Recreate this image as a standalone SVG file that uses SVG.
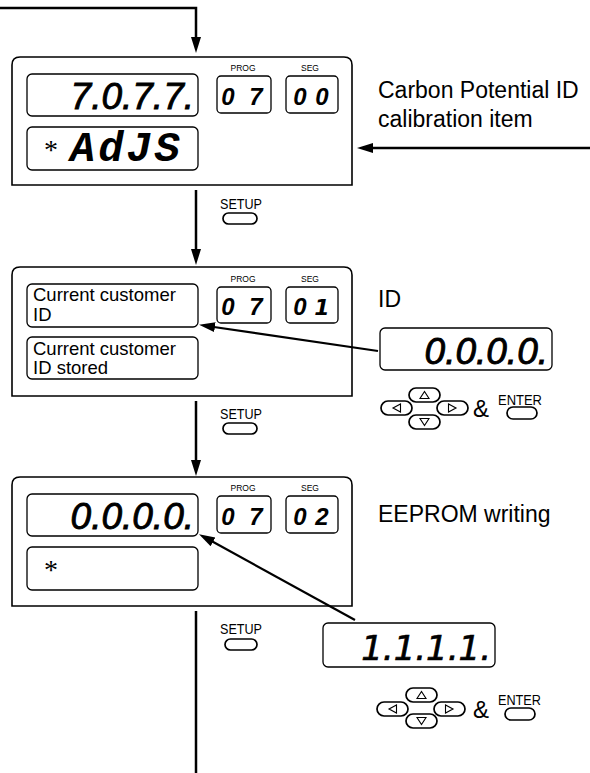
<svg xmlns="http://www.w3.org/2000/svg" width="590" height="773" viewBox="0 0 590 773">
<defs>
<marker id="ah" markerUnits="userSpaceOnUse" markerWidth="18" markerHeight="12" refX="8" refY="5" orient="auto"><path d="M0,0 L16,5 L0,10 Z" fill="#000"/></marker>
<g id="bUp"><rect x="0" y="0" width="31" height="14" rx="7" class="key-b"/><path d="M11,10.5 L20,10.5 L15.5,3.5 Z" class="tri"/></g>
<g id="bDown"><rect x="0" y="0" width="31" height="14" rx="7" class="key-b"/><path d="M11,3.5 L20,3.5 L15.5,10.5 Z" class="tri"/></g>
<g id="bLeft"><rect x="0" y="0" width="31" height="14" rx="7" class="key-b"/><path d="M19.5,3 L19.5,11 L12,7 Z" class="tri"/></g>
<g id="bRight"><rect x="0" y="0" width="31" height="14" rx="7" class="key-b"/><path d="M11.5,3 L11.5,11 L19,7 Z" class="tri"/></g>
</defs>
<style>
.panel{fill:#fff;stroke:#000;stroke-width:1.6}
.disp{fill:#fff;stroke:#000;stroke-width:1.3}
.key-b{fill:#fff;stroke:#000;stroke-width:1.7}
.tri{fill:none;stroke:#000;stroke-width:1.1}
.conn{fill:none;stroke:#000;stroke-width:2.5}
.diag{fill:none;stroke:#000;stroke-width:2.2}
.seg{font-family:"Liberation Sans",Arial,sans-serif;font-style:italic;font-size:37px;text-anchor:end;fill:#000;stroke:#000;stroke-width:0.9}
.one{font-family:"DejaVu Sans",sans-serif;font-style:italic;font-size:34px;text-anchor:end;fill:#000;stroke:#000;stroke-width:0.7}
.mono{font-family:"Liberation Mono","Courier New",monospace;font-style:italic;font-weight:bold;font-size:42px;letter-spacing:3px;fill:#000}
.pd{font-family:"Liberation Sans",Arial,sans-serif;font-style:italic;font-weight:bold;font-size:24px;text-anchor:middle;fill:#000}
.pd1{font-family:"DejaVu Sans",sans-serif;font-style:italic;font-weight:bold;font-size:22px;text-anchor:middle;fill:#000}
.lbl{font-family:"Liberation Sans",Arial,sans-serif;font-size:8.5px;text-anchor:middle;fill:#000}
.txt{font-family:"Liberation Sans",Arial,sans-serif;font-size:18.5px;fill:#000}
.big{font-family:"Liberation Sans",Arial,sans-serif;font-size:23px;fill:#000}
.key{font-family:"Liberation Sans",Arial,sans-serif;font-size:15px;fill:#000}
.amp{font-family:"Liberation Sans",Arial,sans-serif;font-size:24px;fill:#000}
.ast{font-family:"Liberation Serif","Times New Roman",serif;font-size:28px;fill:#000}
</style>

<g id="panel1">
<path class="panel" d="M12,185 V65 Q12,57 20,57 H344 Q352,57 352,65 V185 Z"/>
<rect class="disp" x="27" y="74" width="171" height="42" rx="5"/>
<text class="seg" x="194" y="109">7.0.7.7.</text>
<rect class="disp" x="27" y="127" width="171" height="43" rx="5"/>
<text class="ast" x="44" y="159">*</text>
<text class="mono" x="70" y="161">AdJS</text>
<text class="lbl" x="243" y="71">PROG</text>
<text class="lbl" x="310" y="71">SEG</text>
<rect class="disp" x="217" y="76" width="54" height="37" rx="4"/>
<rect class="disp" x="286" y="76" width="52" height="37" rx="4"/>
<text class="pd" y="105"><tspan x="228">0</tspan><tspan x="256">7</tspan></text>
<text class="pd" y="105"><tspan x="300">0</tspan><tspan x="322">0</tspan></text>
</g>

<g id="label-carbon">
<text class="big" x="378" y="98">Carbon Potential ID</text>
<text class="big" x="378" y="127">calibration item</text>
</g>

<g id="setup1">
<text class="key" x="220" y="209" textLength="42" lengthAdjust="spacingAndGlyphs">SETUP</text>
<rect class="key-b" x="223" y="213" width="34" height="11" rx="5.5"/>
</g>

<g id="panel2">
<path class="panel" d="M12,396 V275 Q12,267 20,267 H344 Q352,267 352,275 V396 Z"/>
<rect class="disp" x="27" y="284" width="171" height="43" rx="5"/>
<text class="txt" x="33" y="301">Current customer</text>
<text class="txt" x="33" y="321">ID</text>
<rect class="disp" x="27" y="337" width="171" height="42" rx="5"/>
<text class="txt" x="33" y="355">Current customer</text>
<text class="txt" x="33" y="374">ID stored</text>
<text class="lbl" x="243" y="282">PROG</text>
<text class="lbl" x="310" y="282">SEG</text>
<rect class="disp" x="217" y="287" width="54" height="36" rx="4"/>
<rect class="disp" x="286" y="287" width="52" height="36" rx="4"/>
<text class="pd" y="315"><tspan x="228">0</tspan><tspan x="256">7</tspan></text>
<text class="pd" y="315"><tspan x="300">0</tspan></text>
<text class="pd1" x="322" y="315">1</text>
</g>

<g id="label-id">
<text class="big" x="378" y="307">ID</text>
</g>

<g id="input-id">
<rect class="disp" x="380" y="328" width="172" height="42" rx="5"/>
<text class="seg" x="548" y="364">0.0.0.0.</text>
</g>

<g id="keys1">
<use href="#bLeft" x="381" y="401"/>
<use href="#bRight" x="437" y="401"/>
<use href="#bUp" x="409" y="388"/>
<use href="#bDown" x="409" y="415"/>
<text class="amp" x="473" y="417">&amp;</text>
<text class="key" x="498" y="405" textLength="44" lengthAdjust="spacingAndGlyphs">ENTER</text>
<rect class="key-b" x="507" y="407" width="30" height="12" rx="6"/>
</g>

<g id="setup2">
<text class="key" x="220" y="419" textLength="42" lengthAdjust="spacingAndGlyphs">SETUP</text>
<rect class="key-b" x="223" y="423" width="34" height="11" rx="5.5"/>
</g>

<g id="panel3">
<path class="panel" d="M12,606 V485 Q12,477 20,477 H344 Q352,477 352,485 V606 Z"/>
<rect class="disp" x="27" y="494" width="171" height="42" rx="5"/>
<text class="seg" x="194" y="529">0.0.0.0.</text>
<rect class="disp" x="27" y="547" width="171" height="43" rx="5"/>
<text class="ast" x="44" y="579">*</text>
<text class="lbl" x="243" y="491">PROG</text>
<text class="lbl" x="310" y="491">SEG</text>
<rect class="disp" x="217" y="496" width="54" height="37" rx="4"/>
<rect class="disp" x="286" y="496" width="52" height="37" rx="4"/>
<text class="pd" y="525"><tspan x="228">0</tspan><tspan x="256">7</tspan></text>
<text class="pd" y="525"><tspan x="300">0</tspan><tspan x="322">2</tspan></text>
</g>

<g id="label-eeprom">
<text class="big" x="378" y="522">EEPROM writing</text>
</g>

<g id="setup3">
<text class="key" x="220" y="634" textLength="42" lengthAdjust="spacingAndGlyphs">SETUP</text>
<rect class="key-b" x="225" y="639" width="32" height="11" rx="5.5"/>
</g>

<g id="input-eeprom">
<rect class="disp" x="323" y="623" width="172" height="44" rx="5"/>
<text class="one" x="491" y="660">1.1.1.1.</text>
</g>

<g id="keys2">
<use href="#bLeft" x="377" y="702"/>
<use href="#bRight" x="434" y="702"/>
<use href="#bUp" x="406" y="688"/>
<use href="#bDown" x="406" y="714"/>
<text class="amp" x="473" y="718">&amp;</text>
<text class="key" x="498" y="705" textLength="43" lengthAdjust="spacingAndGlyphs">ENTER</text>
<rect class="key-b" x="505" y="708" width="30" height="12" rx="6"/>
</g>

<g id="connectors">
<path class="conn" d="M0,8 H196 V45" marker-end="url(#ah)"/>
<path class="conn" d="M590,148 H365" marker-end="url(#ah)"/>
<path class="conn" d="M196,190 V257" marker-end="url(#ah)"/>
<path class="conn" d="M196,401 V468" marker-end="url(#ah)"/>
<path class="conn" d="M196,611 V773"/>
<path class="diag" d="M378,351 L207,326" marker-end="url(#ah)"/>
<path class="diag" d="M355,620 L206,538" marker-end="url(#ah)"/>
</g>
</svg>
